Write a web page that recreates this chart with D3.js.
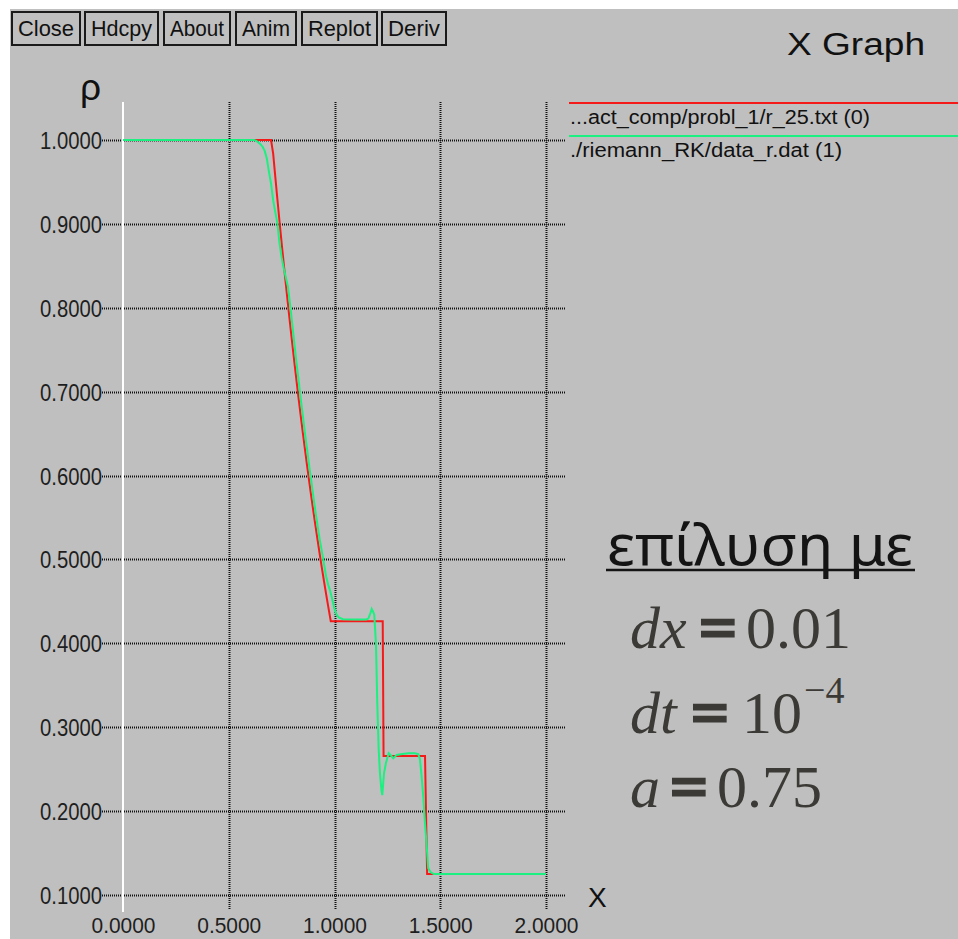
<!DOCTYPE html>
<html>
<head>
<meta charset="utf-8">
<script src="https://cdnjs.cloudflare.com/ajax/libs/d3/7.8.5/d3.min.js"></script>
<style>
    body { margin: 0; background: #ffffff; }
    svg { display: block; }
    .tick text { font-family: "Liberation Sans", Arial, sans-serif; fill: #1e1e1e; }
</style>
</head>
<body>
<script>
//wrap everything in a self-executing anonymous function
(function(){

//menu buttons along the top of the xgraph window
var buttonLabels = ["Close", "Hdcpy", "About", "Anim", "Replot", "Deriv"];

//axis ticks
var xTicks = [0, 0.5, 1.0, 1.5, 2.0];
var yTicks = [0.1, 0.2, 0.3, 0.4, 0.5, 0.6, 0.7, 0.8, 0.9, 1.0];

//legend entries
var seriesNames = ["...act_comp/probl_1/r_25.txt (0)", "./riemann_RK/data_r.dat (1)"];

//series 0: exact solution (red)
var exactX = [0, 0.70, 0.71, 0.72, 0.73, 0.74, 0.75, 0.76, 0.77, 0.78, 0.79,
    0.80, 0.81, 0.82, 0.83, 0.84, 0.85, 0.86, 0.87, 0.88, 0.89,
    0.90, 0.91, 0.92, 0.93, 0.94, 0.95, 0.96, 0.97, 0.98, 0.9824,
    1.228, 1.232, 1.428, 1.438, 2.0];
var exactRho = [1.0, 1.0, 0.9838, 0.9563, 0.9294, 0.9031, 0.8774, 0.8524, 0.8279, 0.8039, 0.7806,
    0.7577, 0.7354, 0.7137, 0.6924, 0.6717, 0.6514, 0.6317, 0.6124, 0.5936, 0.5753,
    0.5574, 0.5400, 0.5230, 0.5065, 0.4903, 0.4746, 0.4593, 0.4444, 0.4298, 0.4263,
    0.4263, 0.2656, 0.2656, 0.125, 0.125];

//series 1: numerical RK solution (green)
var numX = [0, 0.62, 0.63, 0.64, 0.65, 0.66, 0.67, 0.68, 0.69, 0.70,
    0.71, 0.72, 0.73, 0.74, 0.75, 0.76, 0.77, 0.78, 0.79, 0.80,
    0.81, 0.82, 0.83, 0.84, 0.85, 0.86, 0.87, 0.88, 0.89, 0.90,
    0.91, 0.92, 0.93, 0.94, 0.95, 0.96, 0.97, 0.98, 0.99, 1.00,
    1.01, 1.02, 1.04, 1.10, 1.15, 1.16, 1.17, 1.176, 1.182, 1.188,
    1.196, 1.202, 1.209, 1.215, 1.222, 1.226, 1.230, 1.234, 1.243, 1.256,
    1.268, 1.278, 1.294, 1.32, 1.35, 1.38, 1.396, 1.404, 1.412, 1.420,
    1.428, 1.436, 1.443, 1.455, 1.47, 2.0];
var numRho = [1.0, 1.0, 0.999, 0.997, 0.995, 0.992, 0.987, 0.978, 0.962, 0.948,
    0.928, 0.914, 0.901, 0.877, 0.860, 0.847, 0.836, 0.825, 0.804, 0.781,
    0.758, 0.735, 0.714, 0.692, 0.672, 0.651, 0.632, 0.612, 0.594, 0.575,
    0.557, 0.540, 0.524, 0.510, 0.495, 0.480, 0.470, 0.462, 0.452, 0.441,
    0.434, 0.431, 0.4287, 0.4285, 0.4285, 0.4295, 0.436, 0.441, 0.438, 0.434,
    0.400, 0.331, 0.273, 0.245, 0.225, 0.219, 0.232, 0.245, 0.257, 0.269,
    0.266, 0.263, 0.267, 0.268, 0.269, 0.269, 0.268, 0.262, 0.241, 0.216,
    0.185, 0.158, 0.132, 0.127, 0.125, 0.125];

//annotation text
var noteTitle = "επίλυση με";

//window size
var width = 958,
    height = 939;

var svg = d3.select("body")
    .append("svg")
    .attr("width", width)
    .attr("height", height);

//grey xgraph window (white strip left and top)
svg.append("rect")
    .attr("x", 10)
    .attr("y", 9)
    .attr("width", width - 10)
    .attr("height", height - 9)
    .style("fill", "#bfbfbf");

//menu buttons
var buttonX = [12, 85, 164, 236, 302, 382],
    buttonW = [68, 73, 66, 60, 75, 64];

var buttons = svg.selectAll(".button")
    .data(buttonLabels)
    .enter()
    .append("g")
    .attr("class", "button")
    .attr("transform", function(d, i){
        return "translate(" + buttonX[i] + ",12)";
    });

buttons.append("rect")
    .attr("width", function(d, i){ return buttonW[i]; })
    .attr("height", 33)
    .style("fill", "none")
    .style("stroke", "#1a1a1a")
    .style("stroke-width", 2);

buttons.append("text")
    .attr("x", function(d, i){ return buttonW[i] / 2; })
    .attr("y", 24)
    .attr("text-anchor", "middle")
    .attr("textLength", function(d, i){ return buttonW[i] - 12; })
    .attr("lengthAdjust", "spacingAndGlyphs")
    .style("font-family", "Liberation Sans, Arial, sans-serif")
    .style("font-size", "22px")
    .style("fill", "#111")
    .text(function(d){ return d; });

//title
svg.append("text")
    .attr("x", 787)
    .attr("y", 55)
    .attr("textLength", 138)
    .attr("lengthAdjust", "spacingAndGlyphs")
    .style("font-family", "Liberation Sans, Arial, sans-serif")
    .style("font-size", "31px")
    .style("fill", "#111")
    .text("X Graph");

//scales
var x = d3.scaleLinear()
    .domain([0, 2])
    .range([123, 546]);

var y = d3.scaleLinear()
    .domain([0.1, 1.0])
    .range([895, 140]);

//dotted grid lines
var grid = svg.append("g").attr("class", "grid");

grid.selectAll(".hgrid")
    .data(yTicks)
    .enter()
    .append("line")
    .attr("class", "hgrid")
    .attr("x1", 102)
    .attr("x2", 566)
    .attr("y1", function(d){ return Math.round(y(d)) + 0.5; })
    .attr("y2", function(d){ return Math.round(y(d)) + 0.5; })
    .style("stroke", "#111")
    .style("stroke-width", 2)
    .style("stroke-dasharray", "1,1");

grid.selectAll(".vgrid")
    .data(xTicks.slice(1))
    .enter()
    .append("line")
    .attr("class", "vgrid")
    .attr("x1", function(d){ return Math.round(x(d)) + 0.5; })
    .attr("x2", function(d){ return Math.round(x(d)) + 0.5; })
    .attr("y1", 102)
    .attr("y2", 910)
    .style("stroke", "#111")
    .style("stroke-width", 2)
    .style("stroke-dasharray", "1,1");

//white y axis line
svg.append("line")
    .attr("x1", x(0))
    .attr("x2", x(0))
    .attr("y1", 102)
    .attr("y2", 912)
    .style("stroke", "#ffffff")
    .style("stroke-width", 2);

//y tick labels
var yAxis = d3.axisLeft(y)
    .tickValues(yTicks)
    .tickSize(0)
    .tickPadding(0)
    .tickFormat(d3.format(".4f"));

var yAxisG = svg.append("g")
    .attr("class", "axis")
    .attr("transform", "translate(102,0)")
    .call(yAxis);
yAxisG.select(".domain").remove();
yAxisG.selectAll("text")
    .attr("x", 0)
    .attr("dy", "0.37em")
    .attr("textLength", 62)
    .attr("lengthAdjust", "spacingAndGlyphs")
    .style("font-size", "23px");

//x tick labels, kept just inside the bottom edge
var xAxis = d3.axisBottom(x)
    .tickValues(xTicks)
    .tickSize(0)
    .tickPadding(0)
    .tickFormat(d3.format(".4f"));

var xAxisG = svg.append("g")
    .attr("class", "axis")
    .attr("transform", "translate(0,933)")
    .call(xAxis);
xAxisG.select(".domain").remove();
xAxisG.selectAll("text")
    .attr("y", 0)
    .attr("dy", 0)
    .attr("textLength", 64)
    .attr("lengthAdjust", "spacingAndGlyphs")
    .style("font-size", "22px");

//axis titles
svg.append("text")
    .attr("x", 80)
    .attr("y", 100)
    .style("font-family", "Liberation Sans, Arial, sans-serif")
    .style("font-size", "37px")
    .style("fill", "#111")
    .text("ρ");

svg.append("text")
    .attr("x", 588)
    .attr("y", 907)
    .style("font-family", "Liberation Sans, Arial, sans-serif")
    .style("font-size", "28px")
    .style("fill", "#111")
    .text("X");

//data lines
var line = d3.line()
    .x(function(d){ return x(d[0]); })
    .y(function(d){ return y(d[1]); });

var exactData = exactX.map(function(v, i){ return [v, exactRho[i]]; });
var numData = numX.map(function(v, i){ return [v, numRho[i]]; });
var colors = ["#f51a1a", "#1cf080"];

svg.append("path")
    .datum(exactData)
    .attr("d", line)
    .style("fill", "none")
    .style("stroke", colors[0])
    .style("stroke-width", 2);

svg.append("path")
    .datum(numData)
    .attr("d", line)
    .style("fill", "none")
    .style("stroke", colors[1])
    .style("stroke-width", 2);

//legend
var legendY = [103, 136];
var legend = svg.selectAll(".legend")
    .data(seriesNames)
    .enter()
    .append("g")
    .attr("class", "legend");

legend.append("line")
    .attr("x1", 569)
    .attr("x2", width)
    .attr("y1", function(d, i){ return legendY[i]; })
    .attr("y2", function(d, i){ return legendY[i]; })
    .style("stroke", function(d, i){ return colors[i]; })
    .style("stroke-width", 2);

legend.append("text")
    .attr("x", 570)
    .attr("y", function(d, i){ return legendY[i] + 21; })
    .attr("textLength", function(d, i){ return i == 0 ? 300 : 272; })
    .attr("lengthAdjust", "spacingAndGlyphs")
    .style("font-family", "Liberation Sans, Arial, sans-serif")
    .style("font-size", "20px")
    .style("fill", "#111")
    .text(function(d){ return d; });

//annotation: solution parameters
svg.append("text")
    .attr("x", 607)
    .attr("y", 565)
    .attr("textLength", 306)
    .attr("lengthAdjust", "spacingAndGlyphs")
    .style("font-family", "Noto Sans, Open Sans, sans-serif")
    .style("font-size", "56px")
    .style("fill", "#141414")
    .text(noteTitle);

svg.append("line")
    .attr("x1", 606)
    .attr("x2", 915)
    .attr("y1", 570)
    .attr("y2", 570)
    .style("stroke", "#141414")
    .style("stroke-width", 2.5);

var math = svg.append("g")
    .style("font-family", "Liberation Serif, Times New Roman, serif")
    .style("font-size", "60px")
    .style("fill", "#3b3a36");

function mathLine(yy, parts){
    var t = math.append("text").attr("y", yy);
    parts.forEach(function(p){
        var s = t.append("tspan")
            .attr("x", p.x)
            .text(p.t);
        if (p.it) s.style("font-style", "italic");
        if (p.eq) s.attr("textLength", 38).attr("lengthAdjust", "spacingAndGlyphs")
            .style("font-weight", "bold").style("font-size", "62px")
            .style("stroke", "#3b3a36").style("stroke-width", 2.5);
        if (p.sup) s.attr("y", p.sup).style("font-size", "38px");
    });
}

mathLine(648, [{x: 630, t: "dx", it: true}, {x: 699, t: "=", eq: true}, {x: 746, t: "0.01"}]);
mathLine(733, [{x: 630, t: "dt", it: true}, {x: 691, t: "=", eq: true}, {x: 742, t: "10"}, {x: 804, t: "−4", sup: 703}]);
mathLine(807, [{x: 630, t: "a", it: true}, {x: 670, t: "=", eq: true}, {x: 717, t: "0.75"}]);

})();
</script>
</body>
</html>
